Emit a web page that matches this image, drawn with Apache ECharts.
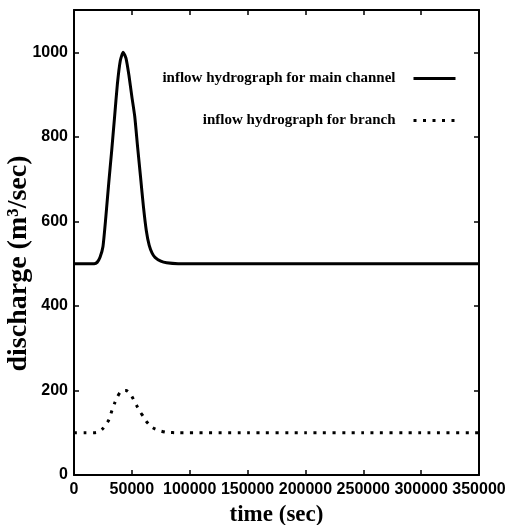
<!DOCTYPE html>
<html><head><meta charset="utf-8">
<script src="https://cdn.jsdelivr.net/npm/echarts@6/dist/echarts.min.js"></script>
<style>html,body{margin:0;padding:0;background:#fff}#c{width:510px;height:525px}</style>
</head><body><div id="c"></div>
<script>
const times = [0, 10000, 17500, 20000, 22500, 25000, 27500, 30000, 32500, 35000,
  37500, 40000, 42500, 45000, 47500, 50000, 52500, 55000, 57500, 60000,
  62500, 65000, 67500, 70000, 75000, 80000, 90000, 150000, 200000, 250000,
  300000, 350000];
const mainFlow = [500, 500, 500, 503, 515, 540, 610, 690, 765, 845,
  925, 980, 1000, 985, 945, 895, 848, 775, 705, 635,
  578, 543, 525, 515, 506, 502, 500, 500, 500, 500,
  500, 500];
const branchFlow = [100, 100, 100, 101, 104, 110, 120, 130, 150, 169,
  185, 196, 200, 200, 195, 186, 173, 160, 148, 138,
  127, 119, 113, 109, 104, 101, 100, 100, 100, 100,
  100, 100];
const seriesNames = ['inflow hydrograph for main channel', 'inflow hydrograph for branch'];
const xTitle = 'time (sec)';
const yTitle = 'discharge (m³/sec)';

const pairs = arr => times.map((t, i) => [t, arr[i]]);
const chart = echarts.init(document.getElementById('c'));
const sans = 'Liberation Sans', serif = 'Liberation Serif';
const frame = () => ({show: true, onZero: false, lineStyle: {color: '#000', width: 2}});
const ticks = () => ({show: true, inside: true, length: 5, lineStyle: {color: '#000', width: 1.5}});
chart.setOption({
  animation: false,
  backgroundColor: '#fff',
  grid: {left: 74, right: 31, top: 10, bottom: 50, containLabel: false, outerBoundsMode: 'none'},
  legend: {
    orient: 'vertical', right: 48, top: 66, align: 'right',
    itemWidth: 42, itemHeight: 14, itemGap: 27,
    itemStyle: {opacity: 0},
    lineStyle: {width: 3},
    textStyle: {fontFamily: serif, fontWeight: 'bold', fontSize: 15, color: '#000', padding: [0, 13, 0, 0]},
    data: seriesNames
  },
  xAxis: [{
    type: 'value', min: 0, max: 350000, interval: 50000,
    name: xTitle, nameLocation: 'middle', nameGap: 29, nameMoveOverlap: false,
    nameTextStyle: {fontFamily: serif, fontWeight: 'bold', fontSize: 23, color: '#000'},
    axisLine: frame(), axisTick: ticks(), splitLine: {show: false},
    axisLabel: {fontFamily: sans, fontWeight: 'bold', fontSize: 16, color: '#000', margin: 7,
      formatter: v => String(v)}
  }, {
    type: 'value', position: 'top', min: 0, max: 350000, interval: 50000,
    axisLine: frame(), axisTick: ticks(), splitLine: {show: false}, axisLabel: {show: false}
  }],
  yAxis: [{
    type: 'value', min: 0, max: 1100, interval: 200,
    name: yTitle, nameLocation: 'middle', nameGap: 41, nameMoveOverlap: false,
    nameTextStyle: {fontFamily: serif, fontWeight: 'bold', fontSize: 28, color: '#000', padding: [0, 42, 0, 0]},
    axisLine: frame(), axisTick: ticks(), splitLine: {show: false},
    axisLabel: {fontFamily: sans, fontWeight: 'bold', fontSize: 16, color: '#000', margin: 6,
      formatter: v => v > 1000 ? '' : String(v)}
  }, {
    type: 'value', position: 'right', min: 0, max: 1100, interval: 200,
    axisLine: frame(), axisTick: ticks(), splitLine: {show: false}, axisLabel: {show: false}
  }],
  series: [{
    name: seriesNames[0], type: 'line', data: pairs(mainFlow), symbol: 'none', smooth: 0.2,
    lineStyle: {color: '#000', width: 3}, itemStyle: {color: '#000'}
  }, {
    name: seriesNames[1], type: 'line', data: pairs(branchFlow), symbol: 'none', smooth: 0.2,
    lineStyle: {color: '#000', width: 3, type: [3, 6.5]}, itemStyle: {color: '#000'}
  }]
});
</script></body></html>
